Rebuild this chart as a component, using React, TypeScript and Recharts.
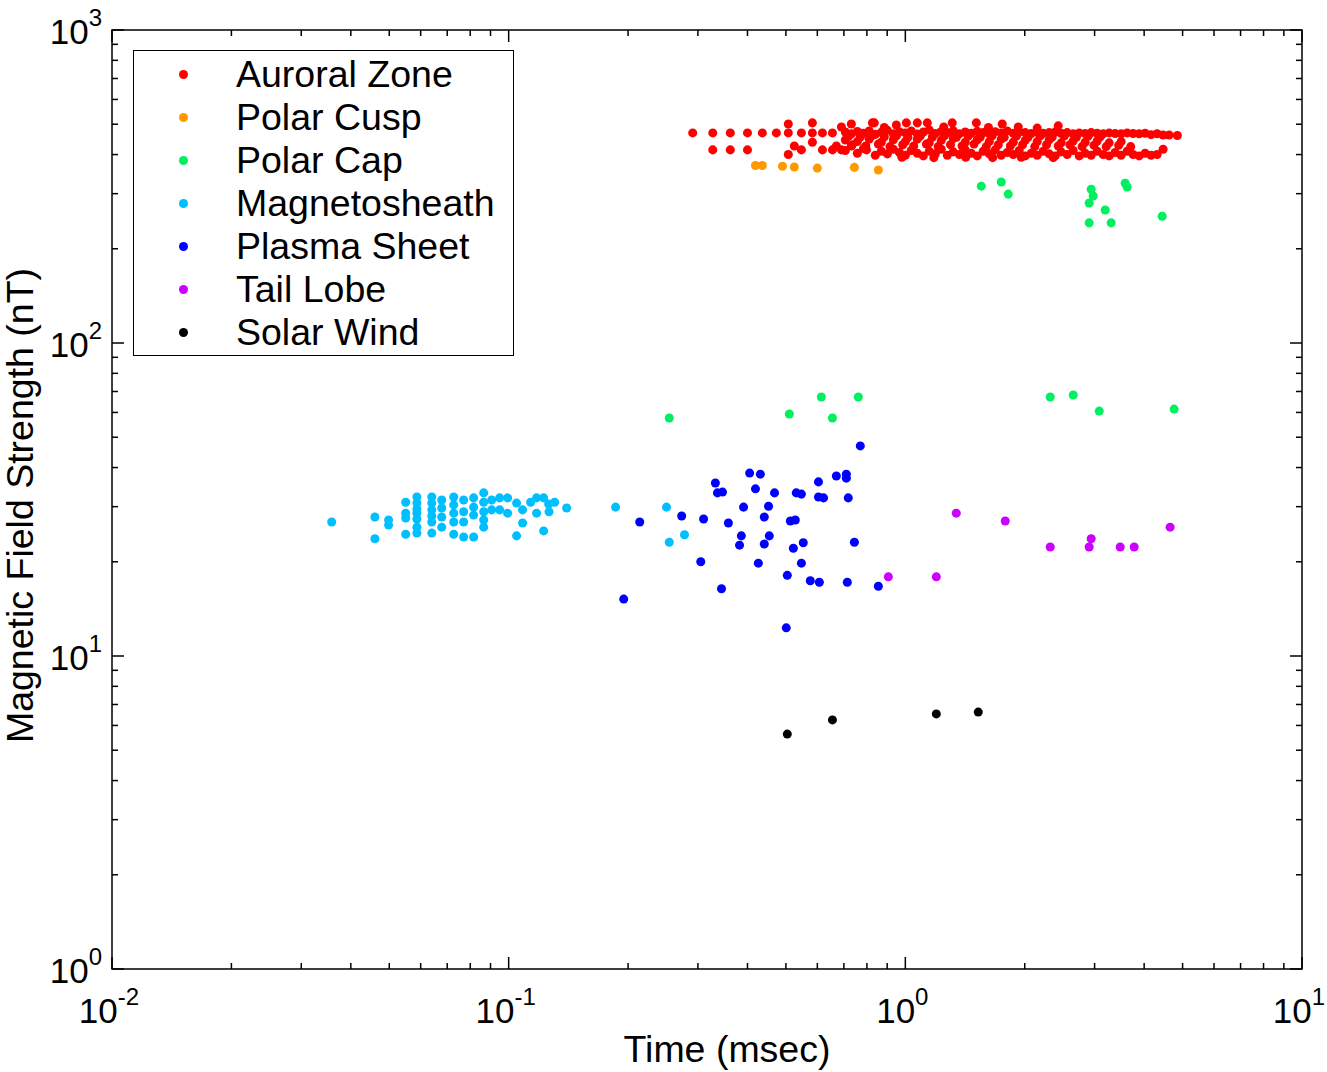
import { ScatterChart, Scatter, XAxis, YAxis, ZAxis, ReferenceArea, Legend } from "recharts";

// [time (msec), field strength (nT)]
type Pt = [number, number];

const X_TICKS = [
  0.01, 0.02, 0.03, 0.04, 0.05, 0.06, 0.07, 0.08, 0.09,
  0.1, 0.2, 0.3, 0.4, 0.5, 0.6, 0.7, 0.8, 0.9,
  1, 2, 3, 4, 5, 6, 7, 8, 9, 10,
];
const Y_TICKS = [
  1, 2, 3, 4, 5, 6, 7, 8, 9,
  10, 20, 30, 40, 50, 60, 70, 80, 90,
  100, 200, 300, 400, 500, 600, 700, 800, 900, 1000,
];

const auroralZone: Pt[] = [
  // sparse left end
  [0.291, 469], [0.327, 469], [0.362, 469], [0.4, 469], [0.436, 469], [0.473, 469],
  [0.507, 469], [0.547, 469], [0.583, 469], [0.618, 469], [0.655, 469],
  [0.327, 414], [0.362, 414], [0.4, 414],
  [0.507, 501], [0.583, 505], [0.525, 426], [0.547, 414], [0.507, 400], [0.583, 438],
  [0.618, 414], [0.655, 414], [0.67, 426], [0.69, 414], [0.69, 490], [0.731, 501],
  [0.731, 426], [0.798, 414], [0.835, 505],
  // upper row
  [0.706, 472], [0.731, 466], [0.757, 474], [0.784, 468], [0.811, 476], [0.84, 464],
  [0.87, 471], [0.901, 478], [0.933, 466], [0.966, 473], [1.0, 469], [1.035, 476],
  [1.072, 465], [1.11, 472], [1.149, 479], [1.19, 467], [1.232, 474], [1.276, 470],
  [1.321, 477], [1.368, 466], [1.416, 472], [1.466, 468], [1.518, 475], [1.572, 470],
  [1.628, 466], [1.685, 473], [1.745, 469], [1.807, 476], [1.871, 468], [1.937, 472],
  [2.006, 470], [2.077, 467], [2.15, 471], [2.226, 468], [2.305, 470], [2.387, 472],
  [2.471, 468], [2.559, 470], [2.649, 466], [2.744, 469], [2.841, 467], [2.941, 470],
  [3.045, 468], [3.153, 466], [3.265, 469], [3.38, 467], [3.5, 466], [3.624, 469],
  [3.752, 467], [3.886, 466], [4.023, 468], [4.165, 463], [4.313, 466], [4.465, 462],
  [4.623, 462], [4.85, 460],
  // upper-middle fill
  [0.72, 458], [0.77, 455], [0.825, 460], [0.885, 456], [0.95, 459], [1.015, 454],
  [1.09, 458], [1.17, 455], [1.255, 459], [1.345, 454], [1.44, 458], [1.545, 455],
  [1.655, 459], [1.775, 454], [1.905, 458], [2.04, 455], [2.19, 459], [2.345, 455],
  [2.515, 458], [2.7, 455], [2.89, 458], [3.1, 456],
  // middle row
  [0.706, 445], [0.757, 440], [0.811, 448], [0.87, 438], [0.933, 446], [1.0, 440],
  [1.072, 448], [1.149, 436], [1.232, 444], [1.321, 450], [1.416, 438], [1.518, 446],
  [1.628, 440], [1.745, 448], [1.871, 438], [2.006, 444], [2.15, 440], [2.305, 446],
  [2.471, 436], [2.649, 442], [2.841, 438], [3.045, 442], [3.265, 436], [3.5, 440],
  [0.735, 430], [0.795, 426], [0.855, 432], [0.915, 424], [0.985, 430], [1.05, 426],
  [1.13, 432], [1.21, 424], [1.3, 430], [1.39, 426], [1.49, 432], [1.6, 424],
  [1.715, 430], [1.84, 426], [1.975, 430], [2.12, 424], [2.27, 430], [2.43, 426],
  [2.6, 430], [2.79, 424], [2.99, 428], [3.21, 424], [3.45, 428], [3.7, 424],
  // lower row
  [0.706, 412], [0.757, 404], [0.784, 418], [0.84, 398], [0.87, 410], [0.901, 402],
  [0.933, 416], [0.966, 406], [1.0, 398], [1.035, 412], [1.072, 404], [1.11, 396],
  [1.149, 410], [1.19, 402], [1.232, 416], [1.276, 398], [1.321, 408], [1.368, 400],
  [1.416, 414], [1.466, 404], [1.518, 396], [1.572, 410], [1.628, 402], [1.685, 414],
  [1.745, 398], [1.807, 406], [1.871, 400], [1.937, 412], [2.006, 396], [2.077, 404],
  [2.15, 398], [2.226, 410], [2.305, 402], [2.387, 396], [2.471, 408], [2.559, 400],
  [2.649, 412], [2.744, 396], [2.841, 404], [2.941, 398], [3.045, 410], [3.153, 400],
  [3.265, 396], [3.38, 406], [3.5, 398], [3.624, 410], [3.752, 400], [3.886, 396],
  [4.023, 404], [4.165, 398], [4.313, 400], [4.465, 416],
  [0.98, 392], [1.18, 391], [1.42, 392], [1.66, 391], [1.96, 392], [2.36, 391],
  // top bumps
  [0.826, 505], [0.949, 497], [1.006, 505], [1.072, 505], [1.136, 505], [1.313, 505],
  [1.51, 505], [1.755, 501], [1.926, 490], [2.429, 494], [0.885, 488], [1.25, 490],
  [1.62, 488], [2.15, 486],
];

const polarCusp: Pt[] = [
  [0.419, 369], [0.436, 369], [0.49, 367], [0.525, 365], [0.6, 362], [0.744, 364], [0.855, 357],
];

const polarCap: Pt[] = [
  [1.554, 317], [1.745, 327], [1.817, 299], [2.941, 310], [2.976, 295], [2.907, 280],
  [3.19, 266], [2.907, 242], [3.303, 242], [3.583, 324], [3.625, 315], [4.441, 254],
  [0.254, 57.6], [0.51, 59.3], [0.614, 67.2], [0.655, 57.6], [0.761, 67.2],
  [2.319, 67.2], [2.65, 68.2], [3.082, 60.6], [4.76, 61.5],
];

const magnetosheath: Pt[] = [
  [0.0358, 26.8], [0.046, 27.8], [0.046, 23.7], [0.0498, 27.2], [0.0498, 26.2],
  [0.055, 31.0], [0.055, 28.6], [0.055, 27.6], [0.055, 24.5],
  [0.0587, 32.2], [0.0587, 30.8], [0.0587, 29.5], [0.0587, 28.6], [0.0587, 27.4], [0.0587, 25.8], [0.0587, 24.7],
  [0.064, 32.2], [0.064, 30.8], [0.064, 29.3], [0.064, 28.0], [0.064, 26.8], [0.064, 24.7],
  [0.0678, 31.5], [0.0678, 29.7], [0.0678, 27.8], [0.0678, 25.8],
  [0.0727, 32.2], [0.0727, 30.4], [0.0727, 28.6], [0.0727, 26.8], [0.0727, 24.5],
  [0.077, 31.5], [0.077, 28.9], [0.077, 26.8], [0.077, 24.0],
  [0.0816, 32.0], [0.0816, 29.9], [0.0816, 28.2], [0.0816, 24.0],
  [0.0865, 33.2], [0.0865, 31.0], [0.0865, 28.9], [0.0865, 27.2], [0.0865, 25.8],
  [0.0906, 31.5], [0.0906, 29.3], [0.0949, 32.0], [0.0949, 29.3],
  [0.0994, 32.0], [0.0994, 28.6], [0.1047, 30.8], [0.1047, 24.2],
  [0.1084, 29.3], [0.1084, 26.6], [0.1136, 31.0], [0.1176, 32.0], [0.1176, 28.6],
  [0.1225, 32.0], [0.1225, 25.1], [0.1261, 30.6], [0.1264, 28.9], [0.1306, 31.0], [0.14, 29.7],
  [0.186, 29.9], [0.25, 29.9], [0.254, 23.1], [0.2775, 24.4],
];

const plasmaSheet: Pt[] = [
  [0.77, 46.9], [0.405, 38.4], [0.431, 38.1], [0.332, 35.7], [0.71, 38.1], [0.71, 37.0],
  [0.67, 37.6], [0.419, 34.2], [0.604, 36.0], [0.336, 33.2], [0.346, 33.4], [0.468, 33.2],
  [0.531, 33.2], [0.547, 32.9], [0.604, 32.2], [0.622, 32.0], [0.718, 32.0], [0.391, 29.9],
  [0.452, 30.1], [0.273, 28.0], [0.31, 27.4], [0.214, 26.8], [0.441, 27.8], [0.358, 26.6],
  [0.513, 27.0], [0.528, 27.2], [0.386, 24.2], [0.454, 24.2], [0.382, 22.6], [0.441, 22.8],
  [0.522, 22.1], [0.553, 23.0], [0.744, 23.1], [0.305, 20.0], [0.426, 19.8], [0.547, 19.8],
  [0.504, 18.1], [0.576, 17.4], [0.607, 17.2], [0.714, 17.2], [0.855, 16.7], [0.344, 16.4],
  [0.195, 15.2], [0.501, 12.3],
];

const tailLobe: Pt[] = [
  [1.344, 28.6], [1.786, 27.0], [0.906, 17.9], [1.197, 17.9], [2.319, 22.3],
  [2.941, 23.7], [2.907, 22.3], [3.481, 22.3], [3.775, 22.3], [4.651, 25.8],
];

const solarWind: Pt[] = [
  [0.504, 5.63], [0.655, 6.25], [1.197, 6.53], [1.527, 6.62],
];

const SERIES = [
  { name: "Auroral Zone", color: "#ff0000", data: auroralZone },
  { name: "Polar Cusp", color: "#ff9900", data: polarCusp },
  { name: "Polar Cap", color: "#00f060", data: polarCap },
  { name: "Magnetosheath", color: "#00bfff", data: magnetosheath },
  { name: "Plasma Sheet", color: "#0000ff", data: plasmaSheet },
  { name: "Tail Lobe", color: "#cc00ff", data: tailLobe },
  { name: "Solar Wind", color: "#000000", data: solarWind },
];
const SERIES_ORDER = SERIES.map((s) => s.name);

const W = 1327;
const H = 1072;
const MARGIN = { top: 30, right: 25, left: 0, bottom: 0 };
const PLOT_TOP = MARGIN.top;
const PLOT_RIGHT = W - MARGIN.right;
const FONT = "'Liberation Sans', Arial, Helvetica, sans-serif";
const TEXT_SIZE = 37.5;

const isDecade = (v: number) => Math.abs(Math.log10(v) - Math.round(Math.log10(v))) < 1e-6;

function XTick(props: any) {
  const { x, y, payload } = props;
  const v = payload.value;
  const major = isDecade(v);
  const len = major ? 12 : 6;
  return (
    <g>
      <line x1={x} y1={y} x2={x} y2={y - len} stroke="#000" strokeWidth={1.5} />
      <line x1={x} y1={PLOT_TOP} x2={x} y2={PLOT_TOP + len} stroke="#000" strokeWidth={1.5} />
      {major && (
        <text x={x - 3} y={y + 54} textAnchor="middle" fontSize={35} fill="#000" fontFamily={FONT}>
          10
          <tspan dy={-18} fontSize={24}>{`${Math.round(Math.log10(v))}`}</tspan>
        </text>
      )}
    </g>
  );
}

function YTick(props: any) {
  const { x, y, payload } = props;
  const v = payload.value;
  const major = isDecade(v);
  const len = major ? 12 : 6;
  return (
    <g>
      <line x1={x} y1={y} x2={x + len} y2={y} stroke="#000" strokeWidth={1.5} />
      <line x1={PLOT_RIGHT} y1={y} x2={PLOT_RIGHT - len} y2={y} stroke="#000" strokeWidth={1.5} />
      {major && (
        <text x={x - 10} y={y + 14} textAnchor="end" fontSize={35} fill="#000" fontFamily={FONT}>
          10
          <tspan dy={-18} fontSize={24}>{`${Math.round(Math.log10(v))}`}</tspan>
        </text>
      )}
    </g>
  );
}

function YTitle(props: any) {
  const vb = props.viewBox;
  const cx = vb.x + 20;
  const cy = vb.y + vb.height / 2 + 6;
  return (
    <text
      x={cx}
      y={cy}
      transform={`rotate(-90, ${cx}, ${cy})`}
      textAnchor="middle"
      dominantBaseline="central"
      fontSize={TEXT_SIZE}
      fill="#000"
      fontFamily={FONT}
    >
      Magnetic Field Strength (nT)
    </text>
  );
}

function LegendBox(props: any) {
  const items = [...(props.payload || [])].sort(
    (a: any, b: any) => SERIES_ORDER.indexOf(a.value) - SERIES_ORDER.indexOf(b.value)
  );
  return (
    <div
      style={{
        width: 381,
        height: 306,
        boxSizing: "border-box",
        border: "1.5px solid #000",
        background: "#fff",
        paddingTop: 2,
        fontFamily: FONT,
      }}
    >
      {items.map((p: any) => (
        <div key={p.value} style={{ position: "relative", height: 43 }}>
          <span
            style={{
              position: "absolute",
              left: 45,
              top: 17,
              width: 9,
              height: 9,
              borderRadius: "50%",
              background: p.color,
            }}
          />
          <span
            style={{
              position: "absolute",
              left: 102,
              top: 0,
              fontSize: TEXT_SIZE,
              lineHeight: "43px",
              color: "#000",
              whiteSpace: "nowrap",
            }}
          >
            {p.value}
          </span>
        </div>
      ))}
    </div>
  );
}

export default function App() {
  return (
    <div style={{ position: "absolute", left: 0, top: 0, background: "#fff" }}>
      <ScatterChart width={W} height={H} margin={MARGIN} style={{ fontFamily: FONT }}>
        <XAxis
          type="number"
          dataKey="x"
          scale="log"
          domain={[0.01, 10]}
          ticks={X_TICKS}
          interval={0}
          allowDataOverflow
          axisLine={false}
          tickLine={false}
          tickSize={0}
          tickMargin={0}
          height={103}
          tick={<XTick />}
          label={{
            value: "Time (msec)",
            position: "insideBottom",
            offset: 10,
            dx: 20,
            fontSize: TEXT_SIZE,
            fill: "#000",
          }}
        />
        <YAxis
          type="number"
          dataKey="y"
          scale="log"
          domain={[1, 1000]}
          ticks={Y_TICKS}
          interval={0}
          allowDataOverflow
          axisLine={false}
          tickLine={false}
          tickSize={0}
          tickMargin={0}
          width={112}
          tick={<YTick />}
          label={{ content: <YTitle /> }}
        />
        <ZAxis range={[78, 78]} />
        <ReferenceArea x1={0.01} x2={10} y1={1} y2={1000} fill="none" stroke="#000" strokeWidth={1.5} />
        {SERIES.map((s) => (
          <Scatter
            key={s.name}
            name={s.name}
            data={s.data.map(([x, y]) => ({ x, y }))}
            fill={s.color}
            shape="circle"
            isAnimationActive={false}
          />
        ))}
        <Legend
          layout="vertical"
          align="center"
          verticalAlign="middle"
          wrapperStyle={{ left: 133, top: 50, width: 381, height: 306 }}
          content={<LegendBox />}
        />
      </ScatterChart>
    </div>
  );
}
